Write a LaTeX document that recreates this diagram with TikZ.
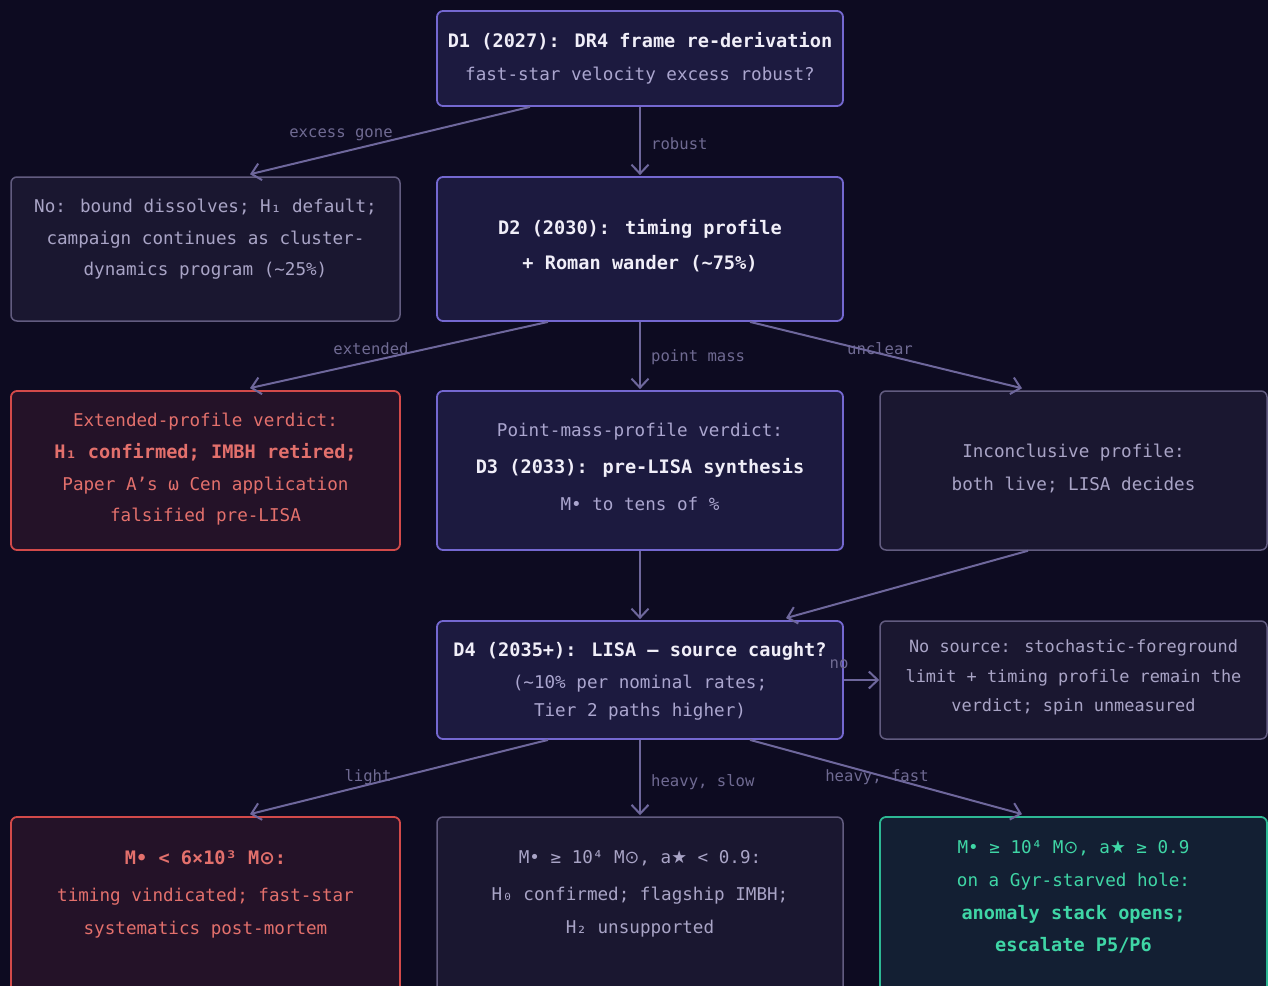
\documentclass[tikz,border=0pt]{standalone}
\usepackage{fontspec}
\setmainfont{DejaVu Sans Mono}
\newfontfamily\symf{DejaVu Sans}
\usetikzlibrary{arrows.meta}
\definecolor{bg}{HTML}{0D0B21}
\definecolor{pfill}{HTML}{1C1A3F}
\definecolor{pdraw}{HTML}{7468D0}
\definecolor{gfill}{HTML}{1A1730}
\definecolor{gdraw}{HTML}{625C80}
\definecolor{rfill}{HTML}{241228}
\definecolor{rdraw}{HTML}{D24A4A}
\definecolor{rtext}{HTML}{E3706C}
\definecolor{sfill}{HTML}{131F33}
\definecolor{sdraw}{HTML}{2DB894}
\definecolor{stext}{HTML}{3FD6A6}
\definecolor{ttext}{HTML}{F0EEF8}
\definecolor{btext}{HTML}{ABA6CF}
\definecolor{gtext}{HTML}{A9A4C6}
\definecolor{edgec}{HTML}{6E679C}
\definecolor{lblc}{HTML}{6F6A92}
\newcommand{\sym}[1]{{\symf #1}}
\tikzset{
  box/.style={rectangle, rounded corners=6pt, line width=1.8pt, inner sep=0pt},
  pbox/.style={box, fill=pfill, draw=pdraw},
  gbox/.style={box, fill=gfill, draw=gdraw, line width=1.5pt},
  rbox/.style={box, fill=rfill, draw=rdraw},
  sbox/.style={box, fill=sfill, draw=sdraw},
  txt/.style={align=center, inner sep=0pt},
  conn/.style={draw=edgec, line width=2pt, -{Straight Barb[length=9pt,width=17pt,line width=2pt]}},
  lbl/.style={text=lblc, font=\fontsize{15.6}{18}\selectfont, inner sep=0pt},
}
\newcommand{\bt}[1]{{\bfseries\fontsize{18.6}{20}\selectfont #1}}
\begin{document}
\begin{tikzpicture}[x=1pt,y=-1pt]
\useasboundingbox (0,0) rectangle (1268,985);
\fill[bg] (-5,-5) rectangle (1275,995);

% boxes
\node[pbox, minimum width=406pt, minimum height=95pt] (d1) at (640,58.5) {};
\node[gbox, minimum width=389pt, minimum height=144pt] (no) at (205.5,249) {};
\node[pbox, minimum width=406pt, minimum height=144pt] (d2) at (640,249) {};
\node[rbox, minimum width=389pt, minimum height=159pt] (ext) at (205.5,470.5) {};
\node[pbox, minimum width=406pt, minimum height=159pt] (pm) at (640,470.5) {};
\node[gbox, minimum width=387pt, minimum height=159pt] (inc) at (1073.5,470.5) {};
\node[pbox, minimum width=406pt, minimum height=118pt] (d4) at (640,680) {};
\node[gbox, minimum width=387pt, minimum height=118pt] (nos) at (1073.5,680) {};
\node[rbox, minimum width=389pt, minimum height=178pt] (lt) at (205.5,906) {};
\node[gbox, minimum width=406pt, minimum height=178pt] (hs) at (640,906) {};
\node[sbox, minimum width=387pt, minimum height=178pt] (fs) at (1073.5,906) {};

% texts
\node[txt, text=btext, font=\fontsize{17.6}{33}\selectfont] (d1t) at (640,58.5)
  {\textcolor{ttext}{\bt{D1 (2027): DR4 frame re-derivation}}\\fast-star velocity excess robust?};
\node[txt, text=gtext, font=\fontsize{17.6}{31.5}\selectfont] (not) at (205.5,239.5)
  {No: bound dissolves; H₁ default;\\campaign continues as cluster-\\dynamics program (\textasciitilde 25\%)};
\node[txt, text=ttext, font=\fontsize{17.6}{35}\selectfont] (d2t) at (640,245.5)
  {\bt{D2 (2030): timing profile}\\\bt{+ Roman wander (\textasciitilde 75\%)}};
\node[txt, text=rtext, font=\fontsize{17.6}{31.7}\selectfont] (extt) at (205.5,469.5)
  {Extended-profile verdict:\\\bt{H₁ confirmed; IMBH retired;}\\Paper A's ω Cen application\\falsified pre-LISA};
\node[txt, text=btext, font=\fontsize{17.6}{37}\selectfont] (pmt) at (640,467)
  {Point-mass-profile verdict:\\\textcolor{ttext}{\bt{D3 (2033): pre-LISA synthesis}}\\M• to tens of \%};
\node[txt, text=gtext, font=\fontsize{17.6}{33}\selectfont] (inct) at (1073.5,468.5)
  {Inconclusive profile:\\both live; LISA decides};
\node[txt, text=btext, font=\fontsize{17.6}{28}\selectfont] (d4t) at (640,681)
  {\textcolor{ttext}{\bt{D4 (2035+): LISA — source caught?}}\\[4pt](\textasciitilde 10\% per nominal rates;\\Tier 2 paths higher)};
\node[txt, text=gtext, font=\fontsize{16.9}{29.5}\selectfont] (nost) at (1073.5,677.5)
  {No source: stochastic-foreground\\limit + timing profile remain the\\verdict; spin unmeasured};
\node[txt, text=rtext, font=\fontsize{17.6}{33}\selectfont] (ltt) at (205.5,894)
  {\bt{M• < 6×10³ M\sym{⊙}:}\\[4pt]timing vindicated; fast-star\\systematics post-mortem};
\node[txt, text=gtext, font=\fontsize{17.6}{33}\selectfont] (hst) at (640,894)
  {M• ≥ 10⁴ M\sym{⊙}, a\sym{★} < 0.9:\\[4pt]H₀ confirmed; flagship IMBH;\\H₂ unsupported};
\node[txt, text=stext, font=\fontsize{17.6}{32.7}\selectfont] (fst) at (1073.5,897)
  {M• ≥ 10⁴ M\sym{⊙}, a\sym{★} ≥ 0.9\\on a Gyr-starved hole:\\\bt{anomaly stack opens;}\\\bt{escalate P5/P6}};

% edge labels
\node[lbl] (l1) at (341,135) {excess gone};
\node[lbl, anchor=west] (l2) at (651,144) {robust};
\node[lbl] (l3) at (371,349) {extended};
\node[lbl, anchor=west] (l4) at (651,357) {point mass};
\node[lbl] (l5) at (880,349) {unclear};
\node[lbl] (l6) at (839,664) {no};
\node[lbl] (l7) at (368,777) {light};
\node[lbl, anchor=west] (l8) at (651,782) {heavy, slow};
\node[lbl] (l9) at (877,777) {heavy, fast};

% connectors
\draw[conn] ([xshift=-110pt]d1.south) -- ([xshift=44.5pt,yshift=2pt]no.north);
\draw[conn] (d1.south) -- ([yshift=1pt]d2.north);
\draw[conn] ([xshift=-92pt]d2.south) -- ([xshift=44.5pt,yshift=2pt]ext.north);
\draw[conn] (d2.south) -- ([yshift=1pt]pm.north);
\draw[conn] ([xshift=110pt]d2.south) -- ([xshift=-51.5pt,yshift=2pt]inc.north);
\draw[conn] (pm.south) -- ([yshift=1pt]d4.north);
\draw[conn] ([xshift=-45.5pt]inc.south) -- ([xshift=146pt,yshift=2pt]d4.north);
\draw[conn] (d4.east) -- (nos.west);
\draw[conn] ([xshift=-92pt]d4.south) -- ([xshift=44.5pt,yshift=2pt]lt.north);
\draw[conn] (d4.south) -- ([yshift=1pt]hs.north);
\draw[conn] ([xshift=110pt]d4.south) -- ([xshift=-51.5pt,yshift=2pt]fs.north);
\end{tikzpicture}
\end{document}
